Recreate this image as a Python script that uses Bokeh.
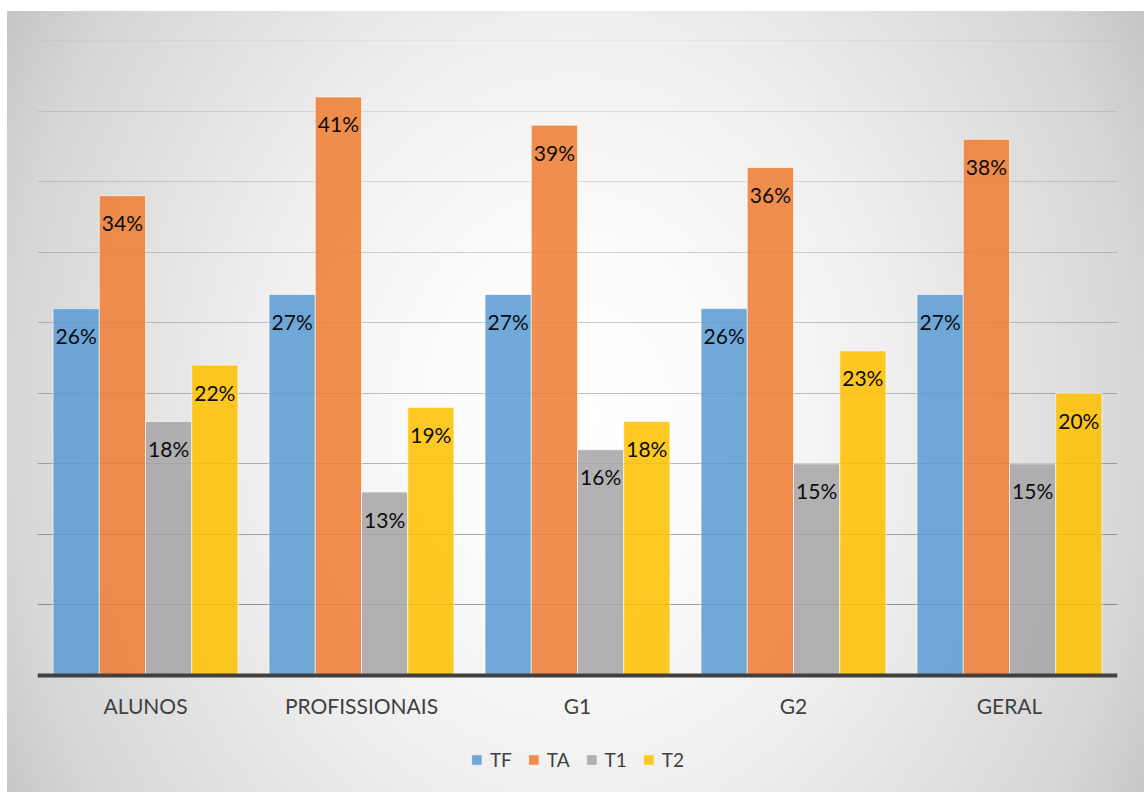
from bokeh.plotting import figure
from bokeh.models import FactorRange, Range1d, Legend, LegendItem, ColumnDataSource
from bokeh.transform import dodge
from bokeh.core.properties import value
from bokeh.embed import file_html
from bokeh.resources import INLINE

# Share of each test type per group (percent)
categories = ["ALUNOS", "PROFISSIONAIS", "G1", "G2", "GERAL"]
series = ["TF", "TA", "T1", "T2"]
tf = [26, 27, 27, 26, 27]
ta = [34, 41, 39, 36, 38]
t1 = [18, 13, 16, 15, 15]
t2 = [22, 19, 18, 23, 20]
grid_levels = [5, 10, 15, 20, 25, 30, 35, 40, 45]

colors = ["#5b9bd5", "#ed7d31", "#a5a5a5", "#ffc000"]
# gridlines fade out towards the top of the plot
grid_alpha = [0.37, 0.33, 0.28, 0.24, 0.20, 0.16, 0.12, 0.09, 0.06]

data = {"cat": categories, "TF": tf, "TA": ta, "T1": t1, "T2": t2}
for name in series:
    data[name + "_lbl"] = [f"{v}%" for v in data[name]]
source = ColumnDataSource(data)

# The plot area runs down to the bottom edge; the category axis is pinned at 0
# and the legend sits inside the area below it.
p = figure(
    x_range=FactorRange(factors=categories, range_padding=0),
    y_range=Range1d(-8.29, 45),
    width=1137, height=781,
    output_backend="svg", toolbar_location=None,
    min_border_left=30, min_border_right=27,
    min_border_top=29, min_border_bottom=0,
)
p.margin = (11, 0, 0, 7)
p.styles = {
    "background-image": "radial-gradient(710px 867px at 50% 52%, #ffffff 0%, "
                        "#fbfbfb 20%, #efefef 45%, #d6d6d6 80%, #c6c6c6 92%, #c0c0c0 100%)"
}
p.background_fill_alpha = 0
p.border_fill_alpha = 0
p.outline_line_color = None
p.xgrid.visible = False
p.ygrid.visible = False
p.yaxis.visible = False

p.hspan(y=grid_levels, line_color="black", line_alpha=grid_alpha, line_width=1)

w = 0.214
offsets = [-1.5 * w, -0.5 * w, 0.5 * w, 1.5 * w]
renderers = []
for name, off, col in zip(series, offsets, colors):
    r = p.vbar(x=dodge("cat", off, range=p.x_range), top=name, bottom=0, width=w,
               source=source, fill_color=col, fill_alpha=0.86,
               line_color="white", line_alpha=0.6, line_width=1)
    renderers.append(r)
    p.text(x=dodge("cat", off, range=p.x_range), y=name, text=name + "_lbl",
           source=source, text_align="center", text_baseline="middle",
           y_offset=27, text_font=value("Lato"), text_font_size="21px",
           text_color="#0d0d0d")

ax = p.xaxis[0]
ax.fixed_location = 0
ax.axis_line_width = 4
ax.axis_line_color = "#404040"
ax.major_tick_line_color = None
ax.minor_tick_line_color = None
ax.major_tick_out = 0
ax.major_tick_in = 0
ax.major_label_standoff = 17
ax.major_label_text_font = "Lato"
ax.major_label_text_font_size = "21px"
ax.major_label_text_color = "#404040"

legend = Legend(
    items=[LegendItem(label=n, renderers=[r]) for n, r in zip(series, renderers)],
    orientation="horizontal", location="bottom_center",
    glyph_width=13, glyph_height=13, label_standoff=7, spacing=15,
    label_text_font="Lato", label_text_font_size="19px", label_text_color="#404040",
    background_fill_alpha=0, border_line_alpha=0, padding=5, margin=16,
)
p.add_layout(legend)

open("out.html", "w").write(file_html(p, INLINE))
